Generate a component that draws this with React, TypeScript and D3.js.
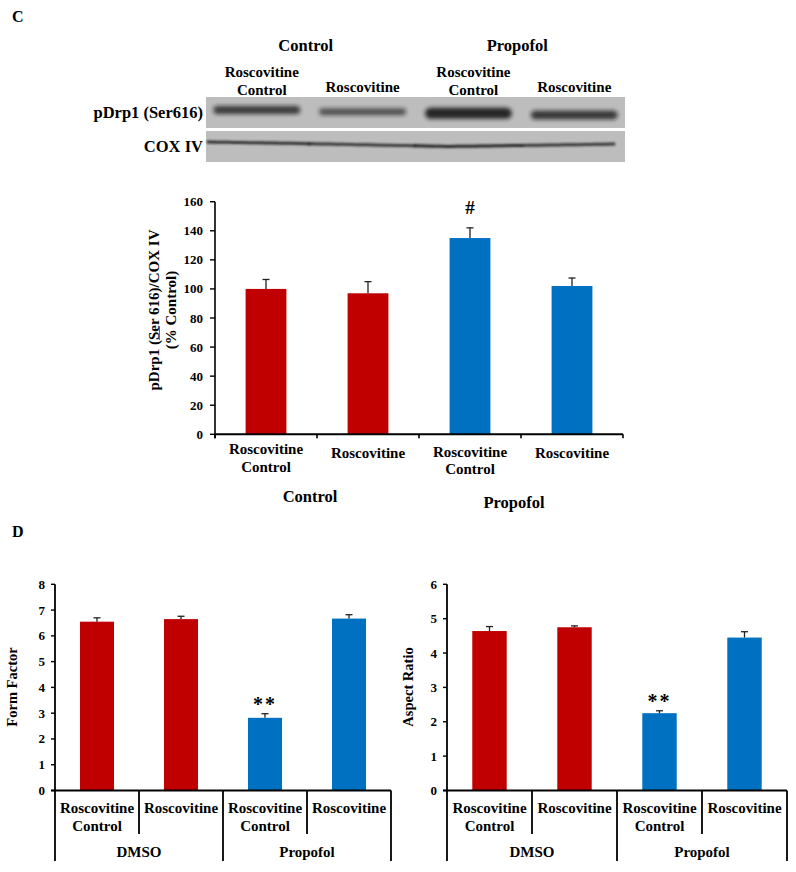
import React from "react";
import * as d3 from "d3";

const FONT = "'Liberation Serif', 'Times New Roman', serif";

// ---------- Panel C : western blot ----------
const blotGroups = ["Control", "Propofol"];
const laneLabels = [["Roscovitine", "Control"], ["Roscovitine"], ["Roscovitine", "Control"], ["Roscovitine"]];
const blotRows = ["pDrp1 (Ser616)", "COX IV"];
const pDrp1BandDensity = [0.8, 0.7, 0.95, 0.82];
const pDrp1BandThickness = [8, 6.5, 11, 8.5];
const coxBandDensity = [0.85, 0.8, 0.9, 0.8];

// ---------- Panel C : bar chart ----------
const cCategories = [["Roscovitine", "Control"], ["Roscovitine"], ["Roscovitine", "Control"], ["Roscovitine"]];
const cGroups = ["Control", "Propofol"];
const cValues = [100, 97, 135, 102];
const cErrors = [6.5, 8, 7, 5.5];
const cMarks = ["", "", "#", ""];
const cTicks = [0, 20, 40, 60, 80, 100, 120, 140, 160];

// ---------- Panel D ----------
const dCategories = [["Roscovitine", "Control"], ["Roscovitine"], ["Roscovitine", "Control"], ["Roscovitine"]];
const dGroups = ["DMSO", "Propofol"];
const formFactorValues = [6.55, 6.65, 2.82, 6.67];
const formFactorErrors = [0.15, 0.11, 0.16, 0.15];
const formFactorTicks = [0, 1, 2, 3, 4, 5, 6, 7, 8];
const aspectRatioValues = [4.64, 4.75, 2.25, 4.45];
const aspectRatioErrors = [0.13, 0.04, 0.07, 0.17];
const aspectRatioTicks = [0, 1, 2, 3, 4, 5, 6];
const dMarks = ["", "", "**", ""];
const barColors = ["#c00000", "#c00000", "#0070c0", "#0070c0"];

function Blot() {
  const lane = d3.scaleBand<number>().domain(d3.range(4)).range([206, 625]).paddingInner(0.18).paddingOuter(0.07);
  const row = d3.scaleBand<number>().domain([0, 1]).range([97, 162]).paddingInner(0.09);
  const bandY = d3.scaleLinear().domain([0, 3]).range([110, 115]);
  const coxY = d3.scaleLinear().domain([206, 300, 450, 520, 620]).range([142, 143.5, 146.5, 145.5, 144]);
  const laneC = (i: number) => (lane(i) as number) + lane.bandwidth() / 2;
  const step = lane.step();
  const seg = d3.line<number>().x(d => d).y(d => coxY(d)).curve(d3.curveBasis);
  return (
    <g>
      {blotGroups.map((g, gi) => (
        <text key={g} x={(laneC(gi * 2) + laneC(gi * 2 + 1)) / 2 - 4} y={51} fontSize={16.5} textAnchor="middle">{g}</text>
      ))}
      {laneLabels.map((ls, i) =>
        ls.map((l, j) => (
          <text key={i + "-" + j} x={laneC(i) + (i === 0 ? 5 : i === 2 ? 5 : 0)} y={ls.length === 2 ? 77 + j * 18 : 92} fontSize={15} textAnchor="middle">{l}</text>
        ))
      )}
      {blotRows.map((r, ri) => (
        <g key={r}>
          <rect x={206} y={row(ri)} width={419} height={row.bandwidth()} fill="#bdbdbd" />
          <text x={203} y={(row(ri) as number) + row.bandwidth() / 2 + 5.5} fontSize={16.5} textAnchor="end">{r}</text>
        </g>
      ))}
      <g filter="url(#bandBlur)">
        {pDrp1BandDensity.map((d, i) => (
          <rect key={i} x={lane(i)} y={bandY(i) - pDrp1BandThickness[i] / 2} width={lane.bandwidth()} height={pDrp1BandThickness[i]}
            rx={pDrp1BandThickness[i] / 2} fill="#1a1a1a" opacity={d} />
        ))}
      </g>
      <g filter="url(#thinBlur)">
        {coxBandDensity.map((d, i) => {
          const x0 = Math.max(208, (lane(i) as number) - (step - lane.bandwidth()) / 2 - 1);
          const x1 = Math.min(614, (lane(i) as number) + lane.bandwidth() + (step - lane.bandwidth()) / 2 + 1);
          const pts = d3.range(x0, x1 + 0.1, (x1 - x0) / 10);
          return <path key={i} d={seg(pts) || ""} fill="none" stroke="#1a1a1a" strokeWidth={3} strokeOpacity={d} strokeLinecap="round" />;
        })}
      </g>
    </g>
  );
}

function ChartC() {
  const left = 215, right = 623;
  const y = d3.scaleLinear().domain([0, 160]).range([434.3, 201.7]);
  const x = d3.scaleBand<number>().domain(d3.range(4)).range([left, right]);
  const bw = x.bandwidth() * 0.4;
  const y0 = y(0);
  return (
    <g>
      {cValues.map((v, i) => {
        const cx = (x(i) as number) + x.bandwidth() / 2;
        const top = y(v + cErrors[i]);
        return (
          <g key={i}>
            <rect x={cx - bw / 2} y={y(v)} width={bw} height={y0 - y(v)} fill={barColors[i]} />
            <line x1={cx} x2={cx} y1={y(v)} y2={top} stroke="#222" strokeWidth={1.3} />
            <line x1={cx - 3.5} x2={cx + 3.5} y1={top} y2={top} stroke="#222" strokeWidth={1.3} />
            {cMarks[i] && <text x={cx} y={top - 14} fontSize={19} textAnchor="middle">{cMarks[i]}</text>}
          </g>
        );
      })}
      <line x1={left} x2={left} y1={y(160)} y2={y0 + 4} stroke="#000" strokeWidth={1.6} />
      {cTicks.map(t => (
        <g key={t}>
          <line x1={left - 5} x2={left} y1={y(t)} y2={y(t)} stroke="#000" strokeWidth={1.4} />
          <text x={left - 12} y={y(t) + 4.5} fontSize={13} textAnchor="end">{t}</text>
        </g>
      ))}
      <line x1={left} x2={right} y1={y0} y2={y0} stroke="#000" strokeWidth={2} />
      {d3.range(5).map(b => (
        <line key={b} x1={left + b * x.step()} x2={left + b * x.step()} y1={y0} y2={y0 + 4} stroke="#000" strokeWidth={1.6} />
      ))}
      {cCategories.map((ls, i) =>
        ls.map((l, j) => (
          <text key={i + "-" + j} x={(x(i) as number) + x.bandwidth() / 2} y={(ls.length === 2 ? 454 + j * 17.5 : 458) + (i === 2 ? 2.5 : 0)}
            fontSize={15} textAnchor="middle">{l}</text>
        ))
      )}
      {cGroups.map((g, gi) => (
        <text key={g} x={left + (gi * 2 + 1) * x.step() - 7} y={502 + gi * 5.5} fontSize={16.5} textAnchor="middle">{g}</text>
      ))}
      <text transform="translate(159,310) rotate(-90)" fontSize={15} textAnchor="middle">pDrp1 (Ser 616)/COX IV</text>
      <text transform="translate(176,310) rotate(-90)" fontSize={15} textAnchor="middle">(% Control)</text>
      <line x1={159.5} x2={159.5} y1={340} y2={326} stroke="#d33" strokeWidth={1} />
    </g>
  );
}

function ChartD({ left, right, yMax, ticks, values, errors, ylabel, ylabelX }: any) {
  const y = d3.scaleLinear().domain([0, yMax]).range([790.5, 584.3]);
  const x = d3.scaleBand<number>().domain(d3.range(4)).range([left, right]);
  const bw = x.bandwidth() * 0.405;
  const y0 = y(0);
  return (
    <g>
      {values.map((v: number, i: number) => {
        const cx = (x(i) as number) + x.bandwidth() / 2;
        const top = y(v + errors[i]);
        return (
          <g key={i}>
            <rect x={cx - bw / 2} y={y(v)} width={bw} height={y0 - y(v)} fill={barColors[i]} />
            <line x1={cx} x2={cx} y1={y(v)} y2={top} stroke="#222" strokeWidth={1.3} />
            <line x1={cx - 3.5} x2={cx + 3.5} y1={top} y2={top} stroke="#222" strokeWidth={1.3} />
            {dMarks[i] && <text x={cx} y={top - 3} fontSize={20} letterSpacing={2} textAnchor="middle">{dMarks[i]}</text>}
          </g>
        );
      })}
      <line x1={left} x2={left} y1={y(yMax)} y2={861} stroke="#000" strokeWidth={1.8} />
      {ticks.map((t: number) => (
        <g key={t}>
          <line x1={left - 4} x2={left} y1={y(t)} y2={y(t)} stroke="#000" strokeWidth={1.4} />
          <text x={left - 10} y={y(t) + 4.5} fontSize={13} textAnchor="end">{t}</text>
        </g>
      ))}
      <line x1={left - 4} x2={right} y1={y0} y2={y0} stroke="#000" strokeWidth={2} />
      {d3.range(1, 5).map(b => (
        <line key={b} x1={left + b * x.step()} x2={left + b * x.step()} y1={y0} y2={b % 2 === 0 ? 861 : 834} stroke="#000" strokeWidth={1.8} />
      ))}
      {dCategories.map((ls, i) =>
        ls.map((l, j) => (
          <text key={i + "-" + j} x={(x(i) as number) + x.bandwidth() / 2} y={813 + j * 17.5} fontSize={15} textAnchor="middle">{l}</text>
        ))
      )}
      {dGroups.map((g, gi) => (
        <text key={g} x={left + (gi * 2 + 1) * x.step()} y={857} fontSize={15} textAnchor="middle">{g}</text>
      ))}
      <text transform={`translate(${ylabelX},687) rotate(-90)`} fontSize={14.5} textAnchor="middle">{ylabel}</text>
    </g>
  );
}

export default function App() {
  return (
    <svg width={796} height={872} style={{ position: "absolute", left: 0, top: 0, background: "#fff" }}
      fontFamily={FONT} fontWeight="bold">
      <defs>
        <filter id="bandBlur" x="-20%" y="-150%" width="140%" height="400%">
          <feGaussianBlur stdDeviation="2" />
        </filter>
        <filter id="thinBlur" x="-10%" y="-300%" width="120%" height="700%">
          <feGaussianBlur stdDeviation="0.8" />
        </filter>
      </defs>
      <text x={12} y={22} fontSize={16}>C</text>
      <Blot />
      <ChartC />
      <text x={12} y={537} fontSize={16}>D</text>
      <ChartD left={55} right={391} yMax={8} ticks={formFactorTicks} values={formFactorValues} errors={formFactorErrors}
        ylabel="Form Factor" ylabelX={17} />
      <ChartD left={447} right={787} yMax={6} ticks={aspectRatioTicks} values={aspectRatioValues} errors={aspectRatioErrors}
        ylabel="Aspect Ratio" ylabelX={413} />
    </svg>
  );
}
